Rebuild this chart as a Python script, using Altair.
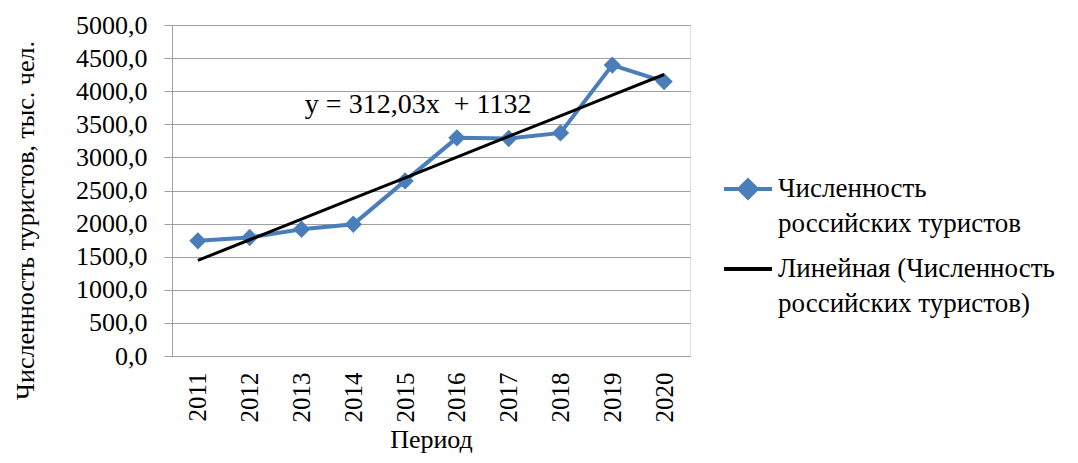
import altair as alt
import pandas as pd

# ---- data ----
years = ["2011", "2012", "2013", "2014", "2015", "2016", "2017", "2018", "2019", "2020"]
tourists = [1740, 1790, 1915, 1990, 2645, 3295, 3285, 3370, 4395, 4145]
trend_slope = 312.03
trend_intercept = 1132
y_ticks = [0, 500, 1000, 1500, 2000, 2500, 3000, 3500, 4000, 4500, 5000]
series_name = "Численность российских туристов"
trend_name = "Линейная (Численность российских туристов)"
equation_text = "y = 312,03x\u00a0 + 1132"
equation_year = "2015"
equation_value = 3790

BLUE = "#4a7ebb"
GRID = "#a0a0a0"
FONT = "Liberation Serif, DejaVu Serif, serif"

df = pd.DataFrame({"year": years, "value": tourists, "series": series_name})
trend_df = pd.DataFrame({
    "year": years,
    "value": [trend_slope * (i + 1) + trend_intercept for i in range(len(years))],
    "series": trend_name,
})
both_df = pd.concat([df, trend_df], ignore_index=True)
eq_df = pd.DataFrame({"year": [equation_year], "value": [equation_value], "label": [equation_text]})

x = alt.X(
    "year:O",
    scale=alt.Scale(type="point", padding=0.5),
    axis=alt.Axis(
        title="Период", labelAngle=-90, labelPadding=16, ticks=False, domain=True,
        domainColor=GRID, labelFontSize=25, labelFont=FONT, labelColor="black",
        titleFontSize=26, titleFont=FONT, titleFontWeight="normal", titleColor="black",
        titlePadding=4, grid=False,
    ),
)
y = alt.Y(
    "value:Q",
    scale=alt.Scale(domain=[0, 5000], nice=False),
    axis=alt.Axis(
        title="Численность туристов, тыс. чел.", values=y_ticks,
        labelExpr="replace(format(datum.value, '.1f'), '.', ',')",
        labelFontSize=26, labelFont=FONT, labelColor="black", labelPadding=17,
        tickSize=8, tickColor=GRID, domainColor=GRID, gridColor=GRID,
        titleFontSize=26, titleFont=FONT, titleFontWeight="normal", titleColor="black",
        titleX=-147, titleY=195, titleAngle=-90, titleAlign="center", titleBaseline="middle",
    ),
)

diamond_path = "M-1,0H1M0,-0.36L0.36,0L0,0.36L-0.36,0Z"
line_path = "M-1,0H1"
domain = [series_name, trend_name]
legend = alt.Legend(
    title=None, orient="none", legendX=550, legendY=138, padding=0,
    labelExpr=f"datum.label == '{series_name}' ? ['Численность', 'российских туристов'] : ['Линейная (Численность', 'российских туристов)']",
    labelFontSize=27, labelFont=FONT, labelColor="black", labelLimit=600, labelOffset=4,
    symbolSize=2304, symbolStrokeWidth=4, symbolOpacity=1, rowPadding=6,
)

series_line = alt.Chart(df).mark_line(strokeWidth=4, color=BLUE).encode(x=x, y=y)
points = alt.Chart(df).mark_point(shape="diamond", filled=True, size=300, color=BLUE, opacity=1).encode(x=x, y=y)
trend = alt.Chart(trend_df).mark_line(strokeWidth=3, color="black").encode(x=x, y=y)
legend_layer = alt.Chart(both_df).mark_point(opacity=0, filled=True).encode(
    x=x, y=y,
    fill=alt.Fill("series:N", scale=alt.Scale(domain=domain, range=[BLUE, "black"]), legend=legend),
    stroke=alt.Stroke("series:N", scale=alt.Scale(domain=domain, range=[BLUE, "black"]), legend=legend),
    shape=alt.Shape("series:N", scale=alt.Scale(domain=domain, range=[diamond_path, line_path]), legend=legend),
)
eq = alt.Chart(eq_df).mark_text(font=FONT, fontSize=28, color="black", dx=13, baseline="middle").encode(
    x=x, y=y, text="label:N"
)

chart = (
    alt.layer(series_line, points, trend, legend_layer, eq)
    .properties(
        width=518, height=331,
        autosize=alt.AutoSizeParams(type="none"),
        padding={"left": 164, "top": 17, "right": 380, "bottom": 99},
    )
    .configure_view(stroke=None)
    .configure(background="white", style={"guide-label": {"lineHeight": 35}})
)

chart.save("out.html", embed_options={"renderer": "svg", "actions": False})
